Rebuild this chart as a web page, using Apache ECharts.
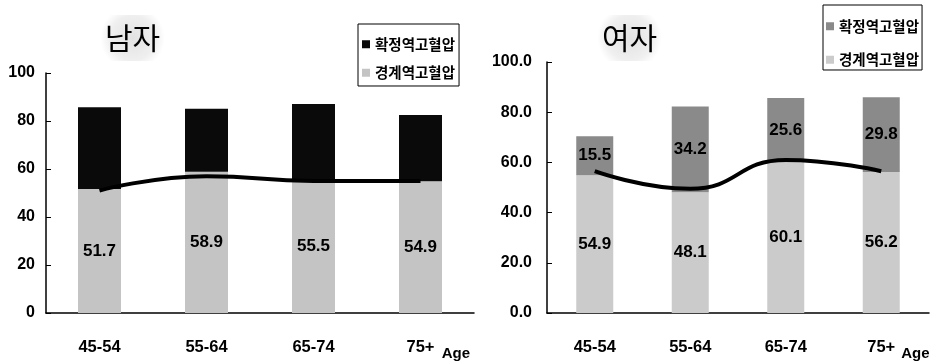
<!DOCTYPE html>
<html><head><meta charset="utf-8">
<script src="https://cdn.jsdelivr.net/npm/echarts@6/dist/echarts.min.js"></script>
<style>html,body{margin:0;padding:0;background:#fff}#c{width:937px;height:363px}</style>
</head><body><div id="c"></div>
<script>
const categories = ['45-54', '55-64', '65-74', '75+'];
const seriesNames = ['확정역고혈압', '경계역고혈압'];
const maleBorderline = [51.7, 58.9, 55.5, 54.9];
const maleConfirmed = [34.0, 26.2, 31.6, 27.6];
const maleLine = [51.0, 57.0, 55.0, 55.0];
const femaleBorderline = [54.9, 48.1, 60.1, 56.2];
const femaleConfirmed = [15.5, 34.2, 25.6, 29.8];
const femaleLine = [56.5, 49.5, 61.0, 56.5];
const titles = ['남자', '여자'];

const NUM = '"Liberation Sans", Arial, sans-serif';
const KR = '"Noto Sans CJK KR", sans-serif';
const C = {
  maleTop: '#0a0a0a', maleBottom: '#c4c4c4',
  femaleTop: '#8a8a8a', femaleBottom: '#cbcbcb'
};

const chart = echarts.init(document.getElementById('c'));
const halo = {type: 'radial', x: 0.5, y: 0.5, r: 0.7,
  colorStops: [{offset: 0, color: '#e2e2e2'}, {offset: 0.7, color: '#efefef'}, {offset: 1, color: '#ffffff'}]};

function xAxis(gridIndex, endPad) {
  return {
    type: 'category', gridIndex, data: categories, boundaryGap: true,
    axisLine: {lineStyle: {color: '#000', width: 1.5}},
    axisTick: {inside: true, length: 5, lineStyle: {color: '#000'}},
    axisLabel: {color: '#000', fontFamily: NUM, fontWeight: 'bold', fontSize: 16.5, margin: 26},
    name: 'Age', nameLocation: 'end', nameGap: 0,
    nameTextStyle: {color: '#000', fontFamily: NUM, fontWeight: 'bold', fontSize: 15,
      align: 'right', verticalAlign: 'top', padding: [33, endPad, 0, 0]}
  };
}
function yAxis(gridIndex, fmt, margin) {
  return {
    type: 'value', gridIndex, min: 0, max: 100, interval: 20,
    axisLine: {show: true, lineStyle: {color: '#000', width: 1.5}},
    axisTick: {show: true, inside: true, length: 5, lineStyle: {color: '#000'}},
    splitLine: {show: false},
    axisLabel: {color: '#000', fontFamily: NUM, fontWeight: 'bold', fontSize: 16, margin,
      formatter: fmt}
  };
}
const lbl = {show: true, position: 'inside', color: '#000', fontFamily: NUM, fontWeight: 'bold', fontSize: 17};
const legendText = {fontFamily: KR, fontSize: 14.5, fontWeight: 'bold', color: '#000'};

chart.setOption({
  animation: false,
  title: [
    {text: titles[0], left: 63, top: 15, padding: [8, 42, 8, 42], backgroundColor: halo,
      textStyle: {fontFamily: KR, fontSize: 30, fontWeight: 'normal', color: '#000'}},
    {text: titles[1], left: 560, top: 15, padding: [8, 42, 8, 42], backgroundColor: halo,
      textStyle: {fontFamily: KR, fontSize: 30, fontWeight: 'normal', color: '#000'}}
  ],
  legend: [
    {orient: 'vertical', left: 358, top: 24, padding: [13, 4, 6, 4], itemGap: 14,
      borderColor: '#000', borderWidth: 1, icon: 'rect', itemWidth: 8, itemHeight: 8,
      textStyle: legendText, selectedMode: false,
      data: [{name: seriesNames[0], itemStyle: {color: C.maleTop}},
             {name: seriesNames[1], itemStyle: {color: C.maleBottom}}]},
    {orient: 'vertical', left: 823, top: 5, padding: [14, 3, 3, 3], itemGap: 19,
      borderColor: '#000', borderWidth: 1, icon: 'rect', itemWidth: 8, itemHeight: 8,
      textStyle: legendText, selectedMode: false,
      data: [{name: seriesNames[0], itemStyle: {color: C.femaleTop}},
             {name: seriesNames[1], itemStyle: {color: C.femaleBottom}}]}
  ],
  grid: [
    {left: 46, right: 463, top: 73, bottom: 50},
    {left: 547, right: 8, top: 62, bottom: 50}
  ],
  xAxis: [xAxis(0, 4), xAxis(1, 4)],
  yAxis: [yAxis(0, v => String(v), 11), yAxis(1, v => v.toFixed(1), 15)],
  series: [
    {name: seriesNames[1], type: 'bar', stack: 'm', xAxisIndex: 0, yAxisIndex: 0, barWidth: 43,
      data: maleBorderline, itemStyle: {color: C.maleBottom}, label: lbl},
    {name: seriesNames[0], type: 'bar', stack: 'm', xAxisIndex: 0, yAxisIndex: 0, barWidth: 43,
      data: maleConfirmed, itemStyle: {color: C.maleTop}, label: {show: false}},
    {name: 'm-line', type: 'line', xAxisIndex: 0, yAxisIndex: 0, data: maleLine, smooth: true,
      symbol: 'none', lineStyle: {color: '#000', width: 4}, z: 5},
    {name: seriesNames[1], type: 'bar', stack: 'f', xAxisIndex: 1, yAxisIndex: 1, barWidth: 37,
      data: femaleBorderline, itemStyle: {color: C.femaleBottom}, label: lbl},
    {name: seriesNames[0], type: 'bar', stack: 'f', xAxisIndex: 1, yAxisIndex: 1, barWidth: 37,
      data: femaleConfirmed, itemStyle: {color: C.femaleTop}, label: lbl},
    {name: 'f-line', type: 'line', xAxisIndex: 1, yAxisIndex: 1, data: femaleLine, smooth: true,
      symbol: 'none', lineStyle: {color: '#000', width: 4}, z: 5}
  ]
});
</script></body></html>
